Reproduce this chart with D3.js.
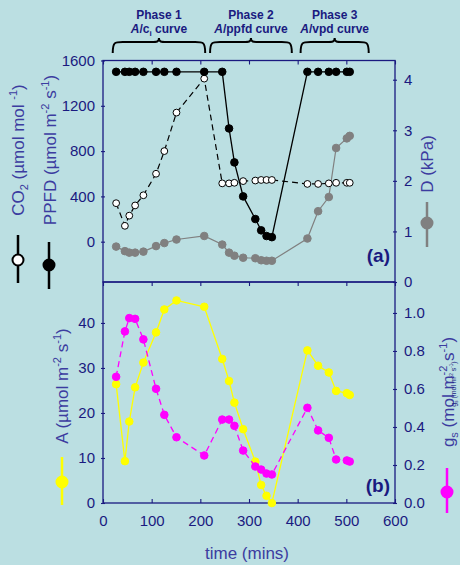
<!DOCTYPE html>
<html><head><meta charset="utf-8">
<script src="https://cdn.jsdelivr.net/npm/d3@7"></script>
<style>
body{margin:0;background:#bbdfe2;}
svg{display:block;font-family:"Liberation Sans",Arial,sans-serif;}
</style></head>
<body><svg id="c" width="460" height="565"></svg>
<script>
// ---- data ----
const time = [27,45,54,66,83,109,126,151,208,245,259,270,288,313,325,336,347,420,442,464,479,501,507];
const ppfd = [1500,1500,1500,1500,1500,1500,1500,1500,1500,1500,1000,700,400,200,100,50,40,1500,1500,1500,1500,1500,1500];
const co2  = [340,140,230,320,410,600,800,1140,1440,515,515,520,535,540,545,545,545,510,510,515,520,520,520];
const vpd  = [0.70,0.61,0.58,0.58,0.60,0.71,0.77,0.84,0.91,0.74,0.58,0.52,0.48,0.47,0.43,0.42,0.42,0.86,1.40,1.68,2.65,2.84,2.89];
const assim= [26.4,9.3,18.1,25.7,31.2,37.9,43.0,45.0,43.6,32.0,27.1,22.3,16.4,9.2,4.0,1.6,0.0,33.9,30.5,29.0,24.9,24.4,24.0];
const gs   = [0.664,0.903,0.973,0.969,0.861,0.601,0.464,0.346,0.250,0.439,0.439,0.406,0.276,0.192,0.176,0.155,0.150,0.501,0.382,0.343,0.229,0.224,0.218];
const xTicks = [0,100,200,300,400,500,600];
const leftTopTicks = [0,400,800,1200,1600];
const rightTopTicks = [0,1,2,3,4];
const leftBotTicks = [0,10,20,30,40];
const rightBotTicks = [0,0.2,0.4,0.6,0.8,1.0];
const phases = [
  {name:"Phase 1", sub:"ci", from:20, to:210},
  {name:"Phase 2", sub:"ppfd", from:220, to:388},
  {name:"Phase 3", sub:"vpd", from:406, to:546}
];

const navy="#1a1a80", titleC="#3c3ca0";
const svg=d3.select("#c");
const L=103,R=395,T1=60.5,B1=282,T2=282,B2=503;
const x=d3.scaleLinear([0,600],[L,R]);
const yP=d3.scaleLinear([-356,1600],[B1,T1]);
const yD=d3.scaleLinear([0,4.38],[B1,T1]);
const yA=d3.scaleLinear([0,49.1],[B2,T2]);
const yG=d3.scaleLinear([0,1.163],[B2,T2]);

// frames
[[T1,B1],[T2,B2]].forEach(([t,b])=>{
  svg.append("rect").attr("x",L).attr("y",t).attr("width",R-L).attr("height",b-t)
    .attr("fill","none").attr("stroke",navy).attr("stroke-width",1.3);
});

function styleAxis(g){
  g.select(".domain").remove();
  g.selectAll("line").attr("stroke",navy).attr("stroke-width",1.1);
  g.selectAll("text").attr("fill",navy).attr("font-size","15px").attr("font-family","Liberation Sans, Arial, sans-serif");
}
// left axes
svg.append("g").attr("transform",`translate(${L+2},0)`)
  .call(d3.axisLeft(yP).tickValues(leftTopTicks).tickSize(4).tickPadding(6).tickFormat(d3.format("d"))).call(styleAxis);
svg.append("g").attr("transform",`translate(${L+2},0)`)
  .call(d3.axisLeft(yA).tickValues(leftBotTicks).tickSize(4).tickPadding(6).tickFormat(d3.format("d"))).call(styleAxis);
// right axes
svg.append("g").attr("transform",`translate(${R-2},0)`)
  .call(d3.axisRight(yD).tickValues(rightTopTicks).tickSize(4).tickPadding(7).tickFormat(d3.format("d"))).call(styleAxis);
svg.append("g").attr("transform",`translate(${R-2},0)`)
  .call(d3.axisRight(yG).tickValues(rightBotTicks).tickSize(4).tickPadding(7).tickFormat(d3.format(".1f"))).call(styleAxis);
// x axes
svg.append("g").attr("transform",`translate(0,${B2})`)
  .call(d3.axisBottom(x).tickValues(xTicks).tickSize(-4).tickPadding(12)).call(styleAxis);
svg.append("g").attr("transform",`translate(0,${T2})`)
  .call(d3.axisBottom(x).tickValues(xTicks).tickSize(4).tickFormat("")).call(styleAxis);
svg.append("g").attr("transform",`translate(0,${T1})`)
  .call(d3.axisBottom(x).tickValues(xTicks).tickSize(4).tickFormat("")).call(styleAxis);

// series
function series(ys, yScale, color, dash, fill, stroke, r, sw){
  const pts=time.map((t,i)=>[x(t),yScale(ys[i])]);
  svg.append("path").attr("d",d3.line()(pts)).attr("fill","none")
    .attr("stroke",color).attr("stroke-width",sw).attr("stroke-dasharray",dash);
  svg.append("g").selectAll("circle").data(pts).join("circle")
    .attr("cx",d=>d[0]).attr("cy",d=>d[1]).attr("r",r)
    .attr("fill",fill).attr("stroke",stroke).attr("stroke-width",1);
}
series(vpd,yD,"#808080",null,"#808080","#808080",3.8,1.2);
series(co2,yP,"#000",["6,4"],"#fff","#000",3.4,1.2);
series(ppfd,yP,"#000",null,"#000","#000",3.8,1.3);
series(assim,yA,"#ffff00",null,"#ffff00","#ffff00",3.8,1.3);
series(gs,yG,"#ff00ff",["6,4"],"#ff00ff","#ff00ff",3.8,1.3);

// panel labels
svg.append("text").attr("x",390).attr("y",262).attr("text-anchor","end").attr("font-size","19px")
  .attr("font-weight","bold").attr("fill",navy).text("(a)");
svg.append("text").attr("x",390).attr("y",492).attr("text-anchor","end").attr("font-size","19px")
  .attr("font-weight","bold").attr("fill",navy).text("(b)");

// phase labels & braces
function brace(x1,x2,yTop,yBot){
  const m=(x1+x2)/2, yMid=yTop+4;
  return `M${x1},${yBot} C${x1},${yMid} ${x1+2},${yMid} ${x1+10},${yMid} L${m-8},${yMid} C${m-2},${yMid} ${m},${yMid} ${m},${yTop}`+
         ` C${m},${yMid} ${m+2},${yMid} ${m+8},${yMid} L${x2-10},${yMid} C${x2-2},${yMid} ${x2},${yMid} ${x2},${yBot}`;
}
phases.forEach(p=>{
  const x1=x(p.from), x2=x(p.to), m=(x1+x2)/2;
  svg.append("text").attr("x",m).attr("y",19).attr("text-anchor","middle").attr("font-size","12px")
    .attr("font-weight","bold").attr("fill",navy).text(p.name);
  const t=svg.append("text").attr("x",m).attr("y",33).attr("text-anchor","middle").attr("font-size","12px")
    .attr("font-weight","bold").attr("fill",navy);
  t.append("tspan").attr("font-style","italic").text("A");
  t.append("tspan").text("/");
  if(p.sub==="ci"){
    t.append("tspan").text("c");
    t.append("tspan").attr("font-size","8px").attr("dy",3).text("i");
    t.append("tspan").attr("dy",-3).text(" curve");
  } else {
    t.append("tspan").text(p.sub+" curve");
  }
  svg.append("path").attr("d",brace(x1,x2,38,53)).attr("fill","none").attr("stroke","#000").attr("stroke-width",2);
});

// axis titles
function vtitle(cx,cy,parts,size,color,rot){
  const t=svg.append("text").attr("transform",`translate(${cx},${cy}) rotate(${rot})`)
    .attr("text-anchor","middle").attr("font-size",size+"px").attr("fill",color||titleC);
  parts.forEach(p=>{
    const s=t.append("tspan").text(p.t);
    if(p.sup){s.attr("font-size",(size*0.65)+"px").attr("dy",-size*0.4);}
    if(p.sub){s.attr("font-size",(size*0.65)+"px").attr("dy",size*0.25);}
    if(p.back) s.attr("dy",p.back*size);
  });
  return t;
}
vtitle(24,150,[{t:"CO"},{t:"2",sub:true},{t:" (µmol mol ",back:-0.25},{t:"-1",sup:true},{t:")",back:0.4}],17,titleC,-90);
vtitle(56,150,[{t:"PPFD (µmol m"},{t:"-2",sup:true},{t:" s",back:0.4},{t:"-1",sup:true},{t:")",back:0.4}],17,titleC,-90);
vtitle(433,164,[{t:"D (kPa)"}],17,titleC,-90);
vtitle(68,386,[{t:"A (µmol m"},{t:"-2",sup:true},{t:" s",back:0.4},{t:"-1",sup:true},{t:")",back:0.4}],17,titleC,-90);
vtitle(454,392,[{t:"g"},{t:"s",sub:true},{t:" (mol m",back:-0.25},{t:"-2",sup:true},{t:" s",back:0.4},{t:"-1",sup:true},{t:")",back:0.4}],17,titleC,-90);
vtitle(456,384,[{t:"g"},{t:"s",sub:true},{t:" (mol m",back:-0.25},{t:"-2",sup:true},{t:" s",back:0.4},{t:"-1",sup:true},{t:")",back:0.4}],7,navy,-90);

// legend symbols next to titles
function sym(cx,y1,y2,cy,color,fill,r){
  svg.append("line").attr("x1",cx).attr("x2",cx).attr("y1",y1).attr("y2",y2).attr("stroke",color).attr("stroke-width",2.5);
  svg.append("circle").attr("cx",cx).attr("cy",cy).attr("r",r).attr("fill",fill).attr("stroke",color).attr("stroke-width",2);
}
sym(18,235,283,260,"#000","#fff",5.5);
sym(49,242,289,265,"#000","#000",5.5);
sym(427,202,247,223,"#808080","#808080",5.5);
sym(62,457,505,482,"#ffff00","#ffff00",5.5);
sym(447,468,513,492,"#ff00ff","#ff00ff",5.5);

// x title
svg.append("text").attr("x",247).attr("y",559).attr("text-anchor","middle").attr("font-size","17px")
  .attr("fill",titleC).text("time (mins)");
</script></body></html>
